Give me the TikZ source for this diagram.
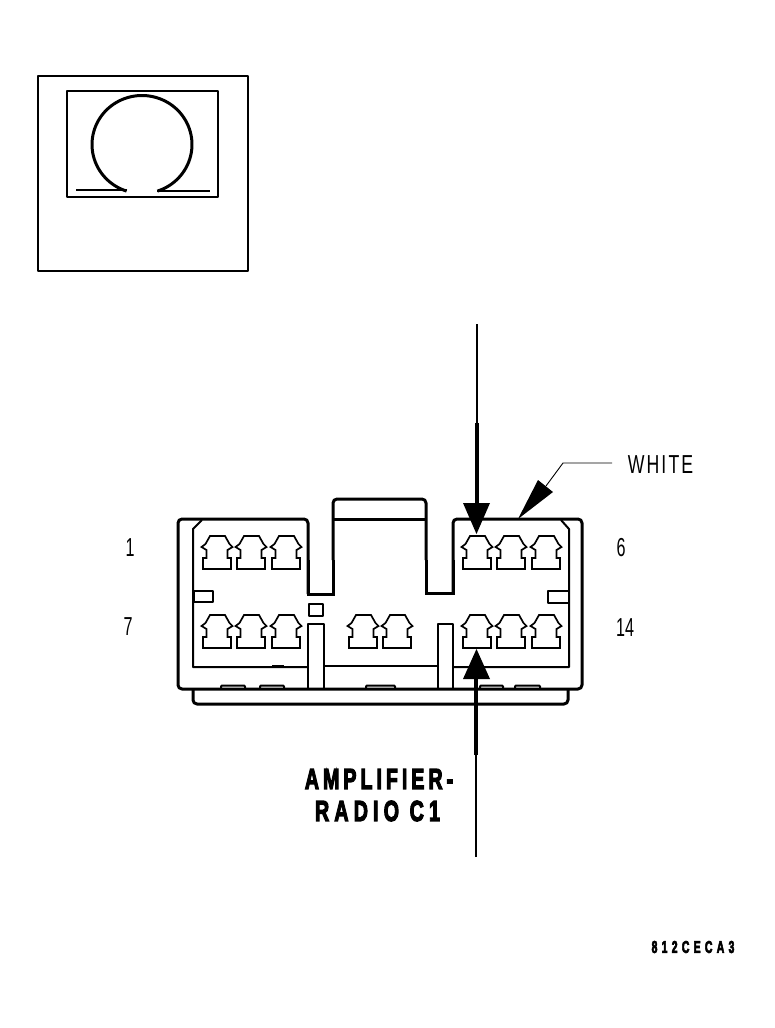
\documentclass[tikz,border=0pt]{standalone}
\usepackage{fontspec}
\setmainfont{Liberation Sans}
\newfontfamily\spacedthin[LetterSpace=12]{Liberation Sans}
\newfontfamily\spacedbold[LetterSpace=20,FakeBold=4.5]{Liberation Sans Bold}
\newfontfamily\spacedradio[LetterSpace=26,FakeBold=4.5]{Liberation Sans Bold}
\newfontfamily\spacedcode[LetterSpace=40,FakeBold=4.5]{Liberation Sans Bold}
\tikzset{
  heavy/.style={line width=3pt,line join=round},
  medium/.style={line width=2pt,line join=round},
  hair/.style={line width=1.1pt},
  shaft/.style={line width=3.4pt},
  head/.style={fill=black,draw=none},
  thinlabel/.style={font=\fontsize{26}{26}\selectfont,xscale=0.62,inner sep=0pt},
  widelabel/.style={font=\spacedthin\fontsize{26}{26}\selectfont,xscale=0.68,inner sep=0pt},
  boldlabel/.style={font=\spacedbold\fontsize{29}{29}\selectfont,xscale=0.68,inner sep=0pt},
  radiolabel/.style={font=\spacedradio\fontsize{29}{29}\selectfont,xscale=0.68,inner sep=0pt},
  codelabel/.style={font=\spacedcode\fontsize{17}{17}\selectfont,xscale=0.62,inner sep=0pt},
  pin/.pic={\draw[line width=1.7pt,line join=miter]
    (0,0)--(28,0)--(28,-11)--(24.5,-11)--(24.5,-19)--(29.5,-22)--(26.5,-25)--(22,-33)--(7,-33)
    --(2.5,-25)--(-1.5,-22)--(3.5,-19)--(3.5,-11)--(0,-11)--cycle;}
}
\begin{document}
\begin{tikzpicture}[x=1pt,y=-1pt]
\useasboundingbox (0,0) rectangle (774,1028);
% locator
\draw[medium] (38,76) rectangle (248,271);
\draw[medium] (67,91) rectangle (218,197);
\draw[line width=3pt] plot[domain=108:432,samples=90,smooth] ({142+50*cos(\x)},{144.5+49*sin(\x)});
\draw[medium] (76,190)--(127,190);
\draw[medium] (157,191)--(210,191);
% body
\draw[heavy,rounded corners=4pt] (308,594) [sharp corners]--(308,594) [rounded corners=4pt]--(308,519)--(178,519)--(178,689)--(582,689)--(582,519)--(453,519)--(453,593);
\draw[heavy,line join=miter] (308,560)--(308,594)--(333,594)--(333,560);
\draw[heavy,line join=miter] (426,560)--(426,593)--(453,593)--(453,560);
\draw[heavy,rounded corners=4pt] (333,560)--(333,499)--(426,499)--(426,560);
\draw[heavy] (333,519)--(426,519);
\draw[heavy,rounded corners=4pt] (193,689)--(193,704)--(568,704)--(568,689);
% inner walls
\draw[medium] (202,520)--(193,529)--(193,667)--(308,667);
\draw[heavy] (272,666.5)--(284,666.5);
\draw[medium] (561,520)--(569,529)--(569,667)--(453,667);
\draw[medium] (324,666)--(438,666);
\draw[medium] (308,689)--(308,624)--(324,624)--(324,689);
\draw[medium] (438,689)--(438,624)--(453,624)--(453,689);
\draw[medium] (309,604) rectangle (323,616);
\draw[medium] (194,591) rectangle (213,602);
\draw[medium] (568,590.5)--(548,590.5)--(548,602.5)--(568,602.5);
\foreach \a/\b in {221/245,260/284,366/395,480/503,515/540}
  \draw[medium,rounded corners=1pt] (\a,688)--(\a,685.5)--(\b,685.5)--(\b,688);
% terminals
\foreach \p in {203,237,272,463,497,532} \pic at (\p,569) {pin};
\foreach \p in {203,237,272,349,383,463,497,532} \pic at (\p,648) {pin};
% arrows
\coordinate (a1) at (477,324); \coordinate (a2) at (477,423); \coordinate (a3) at (477,505);
\coordinate (a4) at (476,857); \coordinate (a5) at (476,755); \coordinate (a6) at (476,677);
\draw[hair] (a1)--(a2);
\draw[shaft] (a2)--(a3);
\fill[head] (463,503)--(490,503)--(476.5,534)--cycle;
\draw[hair] (a4)--(a5);
\draw[shaft] (a5)--(a6);
\fill[head] (463,679)--(490,679)--(476.5,649)--cycle;
\coordinate (w1) at (612,463); \coordinate (w2) at (563,463); \coordinate (w3) at (546,486);
\draw[hair,line width=0.9pt] (w1)--(w2)--(w3);
\fill[head] (518,519)--(538,480)--(553,492)--cycle;
% labels
\node[thinlabel] (n1) at (130,548) {1};
\node[thinlabel] (n6) at (621,548) {6};
\node[thinlabel] (n7) at (128,627) {7};
\node[thinlabel] (n14) at (625,628) {14};
\node[widelabel] (white) at (660.5,465) {WHITE};
\node[boldlabel] (l1) at (379,779) {AMPLIFIER-};
\node[radiolabel] (l2) at (377.5,811) {RADIO C1};
\node[codelabel] (code) at (693,947) {812CECA3};
\end{tikzpicture}
\end{document}
